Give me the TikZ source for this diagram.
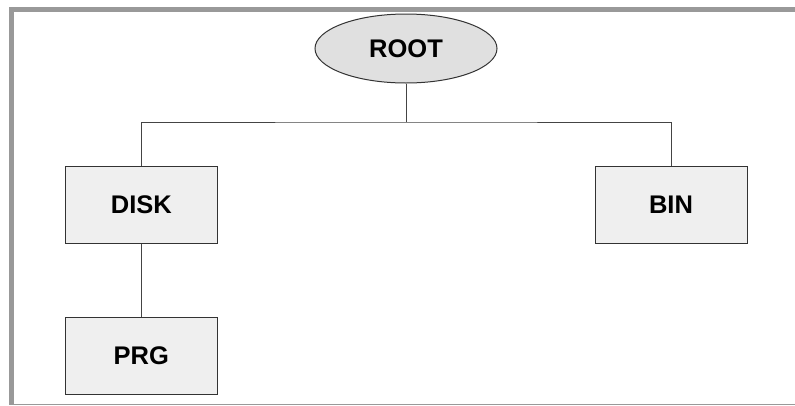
\documentclass[tikz,border=0pt]{standalone}
\usepackage{fontspec}
\setmainfont{Liberation Sans}
\usetikzlibrary{shapes.geometric}
\definecolor{framegray}{HTML}{999999}
\definecolor{edgegray}{HTML}{333333}
\definecolor{linkgray}{HTML}{444444}
\definecolor{ovalfill}{HTML}{E0E0E0}
\definecolor{boxfill}{HTML}{EFEFEF}
\tikzset{
  every node/.style={font=\fontsize{25.5}{30}\selectfont\bfseries, inner sep=0pt},
  rootnode/.style={ellipse, draw=edgegray, fill=ovalfill, line width=1pt,
    minimum width=182pt, minimum height=69pt},
  dirbox/.style={rectangle, draw=edgegray, fill=boxfill, line width=1pt,
    minimum width=152pt, minimum height=76.6pt},
  link/.style={draw=linkgray, line width=1pt}
}
\begin{document}
\begin{tikzpicture}[x=1pt, y=-1pt]
  \useasboundingbox (0,0) rectangle (795,405);
  % frame: heavy top and left edges, thin bottom edge
  \fill[framegray] (9,7) rectangle (795,12);
  \fill[framegray] (9,7) rectangle (14,404.5);
  \draw[framegray, line width=1pt] (9,404) -- (795,404);

  % tree
  \node[rootnode] (root) at (406,48.5) {ROOT};
  \node[dirbox] (disk) at (141.3,205) {DISK};
  \node[dirbox] (bin) at (671,205) {BIN};
  \node[dirbox] (prg) at (141.3,356) {PRG};
  \coordinate (fork) at (406,122);

  \draw[link] (root.south) -- (fork);
  \draw[link] (disk.north) |- (fork) -| (bin.north);
  \draw[link] (disk.south) -- (prg.north);
\end{tikzpicture}
\end{document}
